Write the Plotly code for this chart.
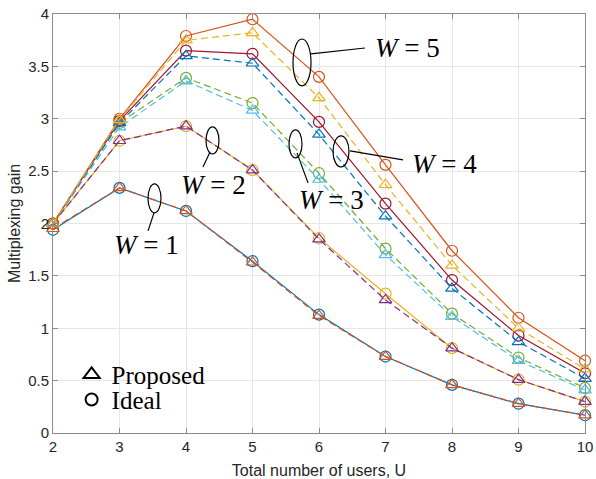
import plotly.graph_objects as go

users = [2, 3, 4, 5, 6, 7, 8, 9, 10]

w1_ideal    = [1.94, 2.34, 2.12, 1.64, 1.13, 0.73, 0.46, 0.28, 0.17]
w1_proposed = [1.95, 2.34, 2.12, 1.63, 1.12, 0.73, 0.46, 0.28, 0.17]
w2_ideal    = [2.00, 2.79, 2.93, 2.51, 1.86, 1.33, 0.81, 0.51, 0.30]
w2_proposed = [2.00, 2.79, 2.93, 2.51, 1.85, 1.27, 0.81, 0.51, 0.30]
w3_ideal    = [2.00, 2.96, 3.39, 3.15, 2.48, 1.76, 1.14, 0.72, 0.43]
w3_proposed = [2.00, 2.92, 3.36, 3.08, 2.42, 1.70, 1.11, 0.69, 0.41]
w4_ideal    = [2.00, 2.98, 3.65, 3.62, 2.97, 2.19, 1.46, 0.93, 0.57]
w4_proposed = [2.00, 2.96, 3.60, 3.53, 2.85, 2.07, 1.38, 0.87, 0.52]
w5_ideal    = [2.00, 3.00, 3.79, 3.95, 3.40, 2.56, 1.74, 1.10, 0.69]
w5_proposed = [2.00, 2.99, 3.75, 3.82, 3.20, 2.37, 1.60, 1.00, 0.61]

series = [
    (w1_ideal, "#0072BD", "circle-open", "solid"),
    (w1_proposed, "#D95319", "triangle-up-open", "dash"),
    (w2_ideal, "#EDB120", "circle-open", "solid"),
    (w2_proposed, "#7E2F8E", "triangle-up-open", "dash"),
    (w3_ideal, "#77AC30", "circle-open", "dash"),
    (w3_proposed, "#4DBEEE", "triangle-up-open", "dash"),
    (w4_ideal, "#A2142F", "circle-open", "solid"),
    (w4_proposed, "#0072BD", "triangle-up-open", "dash"),
    (w5_ideal, "#D95319", "circle-open", "solid"),
    (w5_proposed, "#EDB120", "triangle-up-open", "dash"),
]

fig = go.Figure()
for ys, col, sym, dash in series:
    fig.add_trace(go.Scatter(
        x=users, y=ys, mode="lines+markers", showlegend=False,
        line=dict(color=col, width=1.2, dash="7px,4px" if dash == "dash" else "solid"),
        marker=dict(symbol=sym, size=11, color=col, line=dict(width=1.2, color=col)),
        cliponaxis=False,
    ))

# legend entries (one legend per entry for tight spacing)
fig.add_trace(go.Scatter(x=[None], y=[None], mode="markers", name="Proposed", legend="legend",
                         marker=dict(symbol="triangle-up-open", size=14, color="black",
                                     line=dict(width=2, color="black"))))
fig.add_trace(go.Scatter(x=[None], y=[None], mode="markers", name="Ideal", legend="legend2",
                         marker=dict(symbol="circle-open", size=12, color="black",
                                     line=dict(width=2, color="black"))))

L, R, T, B = 53, 585, 14, 433.3
def dx(px):
    return 2 + (px - L) / ((R - L) / 8)
def dy(py):
    return (B - py) / ((B - T) / 4)
def py_paper(py):
    return (B - py) / (B - T)

ellipses = [
    (148, 184, 161, 213),
    (206, 127, 219, 154),
    (289, 130, 302, 158),
    (333, 136, 349, 167),
    (293, 39, 311, 86),
]
leaders = [
    (154, 213, 148, 231),
    (210, 152, 203, 167),
    (297, 153, 308, 183),
    (350, 151, 403, 160),
    (311, 54, 365, 48),
]
labels = [
    ("1", 146, 245),
    ("2", 213, 185),
    ("3", 331, 200),
    ("4", 444, 164),
    ("5", 407, 48),
]
shapes = []
for x0, y0, x1, y1 in ellipses:
    shapes.append(dict(type="circle", xref="x", yref="y", x0=dx(x0), x1=dx(x1),
                       y0=dy(y1), y1=dy(y0), line=dict(color="black", width=1.2)))
for x0, y0, x1, y1 in leaders:
    shapes.append(dict(type="line", xref="x", yref="y", x0=dx(x0), x1=dx(x1),
                       y0=dy(y0), y1=dy(y1), line=dict(color="black", width=1.2)))
annotations = []
for n, px, py in labels:
    annotations.append(dict(x=dx(px), y=dy(py), xref="x", yref="y", showarrow=False,
                            text="<i>W</i> = " + n,
                            font=dict(family="Liberation Serif", size=27, color="black")))

axis_common = dict(
    showgrid=True, gridcolor="#e6e6e6", gridwidth=1,
    showline=True, linecolor="#8c8c8c", linewidth=1, mirror="ticks",
    ticks="inside", ticklen=5, tickcolor="#8c8c8c", zeroline=False,
    automargin=False,
    tickfont=dict(family="Liberation Sans", size=15, color="#262626"),
)

leg_common = dict(xanchor="left", yanchor="middle", bgcolor="rgba(0,0,0,0)",
                  borderwidth=0, itemsizing="trace",
                  font=dict(family="Liberation Serif", size=25, color="black"))

fig.update_layout(
    width=596, height=479,
    margin=dict(l=L, r=596 - R, t=T, b=479 - B),
    plot_bgcolor="white", paper_bgcolor="white",
    xaxis=dict(range=[2, 10], tickvals=users, ticktext=[str(u) for u in users],
               title=dict(text="Total number of users, U", standoff=10,
                          font=dict(family="Liberation Sans", size=16, color="#262626")),
               **axis_common),
    yaxis=dict(range=[0, 4], tickvals=[0, 0.5, 1, 1.5, 2, 2.5, 3, 3.5, 4],
               ticktext=["0", "0.5", "1", "1.5", "2", "2.5", "3", "3.5", "4"],
               title=dict(text="Multiplexing gain", standoff=3,
                          font=dict(family="Liberation Sans", size=16, color="#262626")),
               **axis_common),
    shapes=shapes, annotations=annotations,
    showlegend=True,
    legend=dict(x=0.035, y=py_paper(375), **leg_common),
    legend2=dict(x=0.035, y=py_paper(400), **leg_common),
)

fig.write_html("out.html")
